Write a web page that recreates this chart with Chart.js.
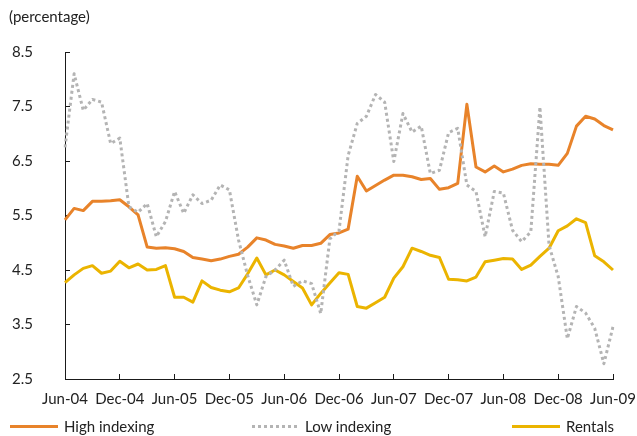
<!DOCTYPE html>
<html>
<head>
<meta charset="utf-8">
<script src="https://cdn.jsdelivr.net/npm/chart.js@4.4.1/dist/chart.umd.min.js"></script>
<style>
  html, body { margin: 0; padding: 0; background: #fff; }
  #wrap { position: relative; width: 637px; height: 436px; font-family: Lato, sans-serif; color: #222; }
  #chart { position: absolute; left: 0; top: 0; }
  .unit { position: absolute; left: 9px; top: 7px; font-size: 15px; }
  .leg { position: absolute; top: 417px; font-size: 15px; line-height: 18px; }
  .swatch { position: absolute; height: 3px; top: 425px; }
</style>
</head>
<body>
<div id="wrap">
  <canvas id="chart" width="637" height="436"></canvas>
  <div class="unit">(percentage)</div>
  <div class="swatch" style="left:10px;width:48px;background:#e8832a"></div>
  <div class="leg" style="left:64px">High indexing</div>
  <div class="swatch" style="left:252px;width:47px;background:repeating-linear-gradient(90deg,#b4b4b4 0 3px,transparent 3px 6px)"></div>
  <div class="leg" style="left:305px">Low indexing</div>
  <div class="swatch" style="left:512px;width:48px;background:#ebb400"></div>
  <div class="leg" style="left:566px">Rentals</div>
</div>
<script>
// Mức lãi suất theo tháng, Jun-04 .. Jun-09
const monthNames = ['Jan', 'Feb', 'Mar', 'Apr', 'May', 'Jun', 'Jul', 'Aug', 'Sep', 'Oct', 'Nov', 'Dec'];
const startMonth = 5, startYear = 2004, monthCount = 61;
const yTicks = [2.5, 3.5, 4.5, 5.5, 6.5, 7.5, 8.5];

const highIndexing = [5.42, 5.63, 5.59, 5.76, 5.76, 5.77, 5.79, 5.66, 5.51, 4.92,
  4.90, 4.91, 4.89, 4.84, 4.73, 4.70, 4.67, 4.70, 4.75, 4.79,
  4.92, 5.09, 5.05, 4.97, 4.94, 4.90, 4.95, 4.95, 4.99, 5.15,
  5.18, 5.25, 6.22, 5.95, 6.05, 6.15, 6.24, 6.24, 6.21, 6.16,
  6.18, 5.98, 6.01, 6.09, 7.54, 6.39, 6.30, 6.41, 6.30, 6.35,
  6.42, 6.45, 6.44, 6.44, 6.42, 6.64, 7.14, 7.32, 7.27, 7.15, 7.07];

const lowIndexing = [6.75, 8.10, 7.43, 7.63, 7.58, 6.82, 6.92, 5.66, 5.56, 5.72,
  5.11, 5.39, 5.94, 5.54, 5.88, 5.72, 5.78, 6.06, 5.97, 5.05,
  4.40, 3.86, 4.38, 4.50, 4.68, 4.20, 4.30, 4.25, 3.70, 5.07,
  5.22, 6.60, 7.19, 7.32, 7.72, 7.58, 6.49, 7.37, 7.03, 7.14,
  6.27, 6.33, 7.02, 7.10, 6.06, 5.94, 5.11, 5.94, 5.91, 5.23,
  5.02, 5.20, 7.49, 4.95, 4.38, 3.24, 3.83, 3.71, 3.43, 2.78, 3.46];

const rentals = [4.27, 4.41, 4.53, 4.58, 4.44, 4.48, 4.66, 4.54, 4.61, 4.50,
  4.51, 4.58, 4.00, 4.00, 3.91, 4.30, 4.18, 4.13, 4.10, 4.17,
  4.43, 4.72, 4.41, 4.50, 4.41, 4.29, 4.17, 3.86, 4.07, 4.26,
  4.45, 4.42, 3.83, 3.80, 3.90, 4.00, 4.35, 4.56, 4.90, 4.84,
  4.77, 4.73, 4.33, 4.32, 4.30, 4.37, 4.65, 4.68, 4.71, 4.70,
  4.51, 4.59, 4.75, 4.90, 5.22, 5.31, 5.44, 5.37, 4.76, 4.65, 4.50];

// Nhãn tháng dạng "Jun-04"
const months = [];
for (let i = 0; i < monthCount; i++) {
    const m = (startMonth + i) % 12;
    const y = startYear + Math.floor((startMonth + i) / 12);
    months.push(monthNames[m] + '-' + String(y).slice(2));
}

const axisColor = '#1a1a1a';
const fontSpec = { family: 'Lato, sans-serif', size: 15 };

function lineSet(label, data, color, dash) {
    return {
        label: label,
        data: data,
        borderColor: color,
        backgroundColor: color,
        borderWidth: 3,
        borderDash: dash || [],
        borderCapStyle: 'butt',
        borderJoinStyle: 'round',
        pointRadius: 0,
        tension: 0,
        fill: false
    };
}

new Chart(document.getElementById('chart'), {
    type: 'line',
    data: {
        labels: months,
        datasets: [
            lineSet('Low indexing', lowIndexing, '#b4b4b4', [3, 3]),
            lineSet('Rentals', rentals, '#ebb400'),
            lineSet('High indexing', highIndexing, '#e8832a')
        ]
    },
    options: {
        responsive: false,
        animation: false,
        layout: { padding: { left: 0, right: 24, top: 52, bottom: 0 } },
        plugins: {
            legend: { display: false },
            tooltip: { enabled: false }
        },
        scales: {
            x: {
                offset: false,
                border: { color: axisColor, width: 1 },
                grid: {
                    drawOnChartArea: false,
                    drawTicks: true,
                    tickLength: -5,
                    tickColor: (ctx) => ctx.index % 6 === 0 ? axisColor : 'rgba(0,0,0,0)'
                },
                ticks: {
                    autoSkip: false,
                    maxRotation: 0,
                    minRotation: 0,
                    padding: 16,
                    color: '#222',
                    font: fontSpec,
                    callback: function(val, idx) { return idx % 6 === 0 ? months[idx] : ''; }
                },
                afterFit: function(scale) {
                    scale.height = 57;
                    scale.paddingLeft = 0;
                    scale.paddingRight = 0;
                }
            },
            y: {
                min: 2.5,
                max: 8.5,
                border: { color: axisColor, width: 1 },
                grid: { drawOnChartArea: false, drawTicks: true, tickLength: -5, tickColor: axisColor },
                ticks: {
                    padding: 37,
                    color: '#222',
                    font: fontSpec,
                    callback: (v) => v.toFixed(1)
                },
                afterBuildTicks: function(scale) {
                    scale.ticks = yTicks.map(v => ({ value: v }));
                },
                afterFit: function(scale) {
                    scale.width = 65;
                    scale.paddingTop = 0;
                    scale.paddingBottom = 0;
                }
            }
        }
    }
});
</script>
</body>
</html>
